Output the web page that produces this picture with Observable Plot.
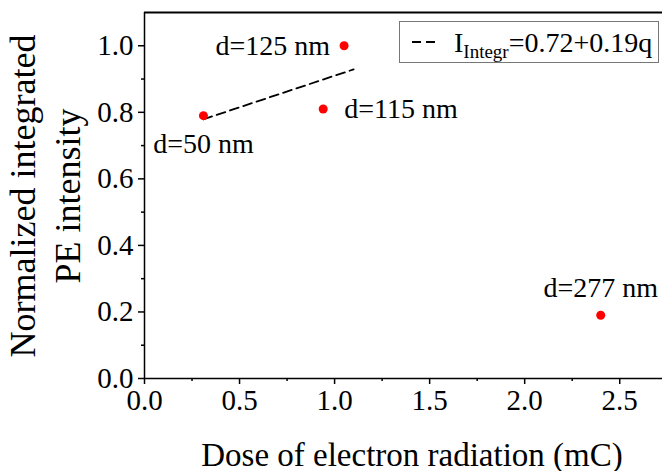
<!DOCTYPE html>
<html>
<head>
<meta charset="utf-8">
<script src="https://cdn.jsdelivr.net/npm/d3@7"></script>
<script src="https://cdn.jsdelivr.net/npm/@observablehq/plot@0.6"></script>
<style>
  html, body { margin: 0; padding: 0; background: #fff; }
  #wrap { position: relative; width: 662px; height: 471px; overflow: hidden; font-family: "Liberation Serif", "Times New Roman", serif; }
  #ytitle { position: absolute; left: 46px; top: 196px; transform: translate(-50%, -50%) rotate(-90deg); white-space: nowrap; text-align: center; font-size: 36px; line-height: 45px; color: #000; }
  #xtitle { position: absolute; left: 412px; top: 455px; transform: translate(-50%, -50%); white-space: nowrap; font-size: 33px; color: #000; }
  #legend { position: absolute; left: 399px; top: 21px; width: 258px; height: 40px; border: 1px solid #777; background: #fff; }
</style>
</head>
<body>
<div id="wrap">
  <div id="chart"></div>
  <div id="ytitle">Normalized integrated<br>PE intensity</div>
  <div id="xtitle">Dose of electron radiation (mC)</div>
  <div id="legend"><svg width="258" height="40"><line x1="12" y1="20" x2="38" y2="20" stroke="#000" stroke-width="2" stroke-dasharray="9,5"/><text x="54" y="30" font-family="Liberation Serif" font-size="28">I<tspan font-size="19" dy="6">Integr</tspan><tspan dy="-6">=0.72+0.19q</tspan></text></svg></div>
</div>
<script>
const doses = [0.31, 0.94, 1.05, 2.40];
const intensity = [0.79, 0.81, 1.00, 0.19];
const labels = ["d=50 nm", "d=115 nm", "d=125 nm", "d=277 nm"];
const fitX = [0.31, 1.10];
const fitY = [0.779, 0.929];
const xTicks = [0, 0.5, 1.0, 1.5, 2.0, 2.5];
const xMinor = [0.25, 0.75, 1.25, 1.75, 2.25];
const yTicks = [0, 0.2, 0.4, 0.6, 0.8, 1.0];
const yMinor = [0.1, 0.3, 0.5, 0.7, 0.9];

const pts = doses.map((d, i) => ({x: d, y: intensity[i], label: labels[i]}));
const fit = fitX.map((d, i) => ({x: d, y: fitY[i]}));
const fmt = d3.format(".1f");
const font = "Liberation Serif";

const plot = Plot.plot({
  width: 662,
  height: 471,
  marginLeft: 144,
  marginRight: 0,
  marginTop: 12,
  marginBottom: 93,
  style: {fontFamily: font, fontSize: "28px", color: "#000", background: "#fff"},
  x: {domain: [0, 2.725]},
  y: {domain: [0, 1.1]},
  marks: [
    Plot.axisX(xTicks, {tickSize: 6, tickPadding: 5, tickFormat: fmt, label: null, fontSize: 29, fontFamily: font, strokeWidth: 1.5}),
    Plot.axisX(xMinor, {tickSize: 3, text: null, label: null, strokeWidth: 1.5}),
    Plot.axisY(yTicks, {tickSize: 6, tickPadding: 5, tickFormat: fmt, label: null, fontSize: 29, fontFamily: font, strokeWidth: 1.5}),
    Plot.axisY(yMinor, {tickSize: 3, text: null, label: null, strokeWidth: 1.5}),
    Plot.ruleX([0], {strokeWidth: 1.5}),
    Plot.ruleY([0], {strokeWidth: 1.5}),
    Plot.ruleY([1.1], {strokeWidth: 2}),
    Plot.line(fit, {x: "x", y: "y", stroke: "#000", strokeWidth: 1.8, strokeDasharray: "9,5"}),
    Plot.dot(pts, {x: "x", y: "y", r: 4.5, fill: "#f00", stroke: "none"}),
    Plot.text(pts.filter(d => d.label === "d=50 nm"), {x: "x", y: "y", text: "label", dy: 28, textAnchor: "middle", fontSize: 28, fontFamily: font}),
    Plot.text(pts.filter(d => d.label === "d=115 nm"), {x: "x", y: "y", text: "label", dx: 21, dy: 0, textAnchor: "start", fontSize: 28, fontFamily: font}),
    Plot.text(pts.filter(d => d.label === "d=125 nm"), {x: "x", y: "y", text: "label", dx: -14, dy: 0, textAnchor: "end", fontSize: 28, fontFamily: font}),
    Plot.text(pts.filter(d => d.label === "d=277 nm"), {x: "x", y: "y", text: "label", dy: -27, textAnchor: "middle", fontSize: 28, fontFamily: font})
  ]
});
document.getElementById("chart").appendChild(plot);
</script>
</body>
</html>
